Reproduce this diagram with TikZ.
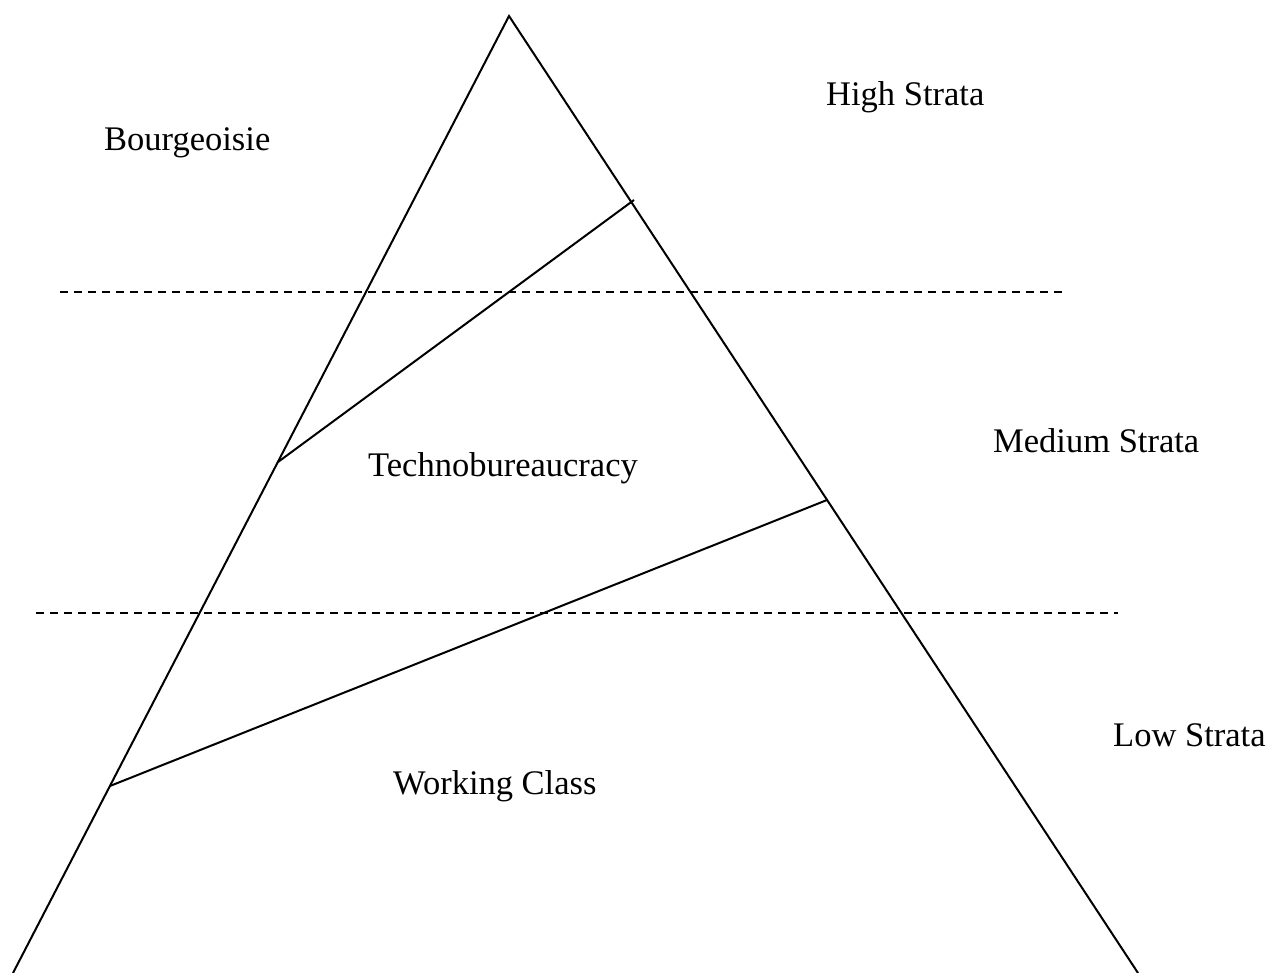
\documentclass[tikz,border=0pt]{standalone}
\usepackage{fontspec}
\setmainfont{Liberation Serif}
\begin{document}
\begin{tikzpicture}[x=1pt,y=-1pt,
  lbl/.style={anchor=base west,inner sep=0pt,font=\fontsize{34.5}{40}\selectfont},
  solidline/.style={line width=2pt,line join=miter},
  dashline/.style={line width=2pt,dash pattern=on 7.5pt off 6.5pt}]
\useasboundingbox (0,0) rectangle (1268,973);
\coordinate (apex) at (509,16);
\coordinate (bl) at (13,973);
\coordinate (br) at (1138,973);
\draw[solidline] (bl) -- (apex) -- (br);
\coordinate (t1) at (278,462);
\coordinate (t2) at (634,200);
\coordinate (w1) at (110,786);
\coordinate (w2) at (827,500);
\draw[solidline] (t1) -- (t2);
\draw[solidline] (w1) -- (w2);
\coordinate (d1a) at (60,292);
\coordinate (d1b) at (1063,292);
\coordinate (d2a) at (36,613);
\coordinate (d2b) at (1118,613);
\draw[dashline] (d1a) -- (d1b);
\draw[dashline] (d2a) -- (d2b);
\node[lbl] (bourg) at (104,151) {Bourgeoisie};
\node[lbl] (high) at (826,106) {High Strata};
\node[lbl] (techno) at (368,476) {Technobureaucracy};
\node[lbl] (medium) at (993,452) {Medium Strata};
\node[lbl] (low) at (1113,746) {Low Strata};
\node[lbl] (working) at (393,794) {Working Class};
\end{tikzpicture}
\end{document}
